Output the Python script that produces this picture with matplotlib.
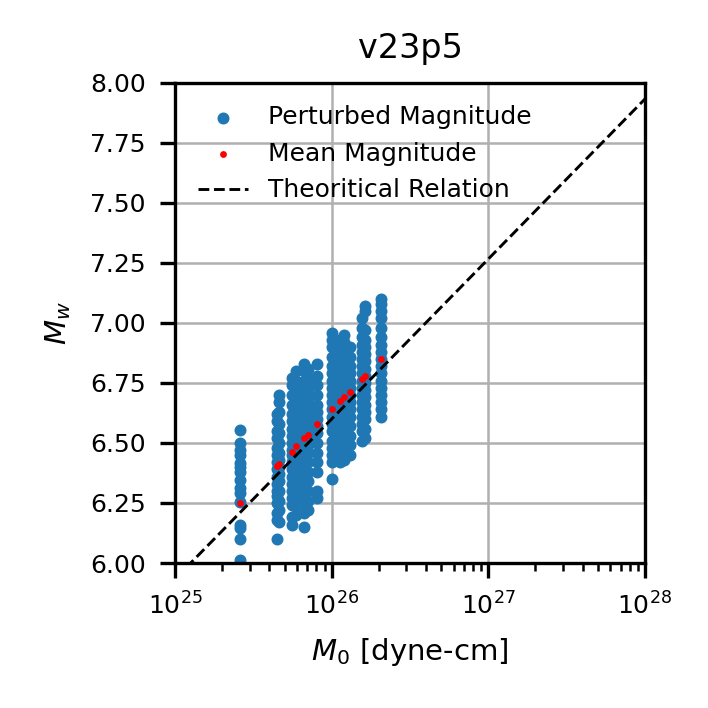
import numpy as np
import matplotlib
matplotlib.use("Agg")
import matplotlib.pyplot as plt

plt.rcParams['font.size'] = 6

# Event seismic moments (dyne-cm) and mean magnitudes
m0_events = [2.60e25, 4.46e25, 4.64e25, 5.56e25, 5.92e25, 6.68e25, 7.10e25,
             8.09e25, 1.005e26, 1.13e26, 1.205e26, 1.30e26, 1.556e26,
             1.633e26, 2.065e26]
mean_mw = [6.249, 6.404, 6.4125, 6.464, 6.4875, 6.52, 6.535, 6.579, 6.64,
           6.675, 6.69, 6.7125, 6.765, 6.779, 6.849]

# Perturbed magnitudes per event
pert_A = [6.554, 6.50, 6.47, 6.45, 6.415, 6.40, 6.38, 6.346, 6.311, 6.29,
          6.255, 6.158, 6.144, 6.10, 6.0125]
pert_B = [6.10, 6.18, 6.21, 6.25, 6.28, 6.30, 6.33, 6.36, 6.39, 6.42, 6.45,
          6.48, 6.52, 6.55, 6.59, 6.62]
pert_C = [6.17, 6.22, 6.26, 6.30, 6.34, 6.37, 6.40, 6.43, 6.46, 6.50, 6.54,
          6.58, 6.63, 6.67, 6.70]
pert_D = [6.16, 6.19, 6.24, 6.27, 6.30, 6.33, 6.36, 6.39, 6.42, 6.45, 6.47,
          6.50, 6.53, 6.56, 6.59, 6.62, 6.66, 6.70, 6.74, 6.77]
pert_E = [6.20, 6.24, 6.28, 6.31, 6.35, 6.38, 6.41, 6.44, 6.47, 6.49, 6.52,
          6.55, 6.58, 6.61, 6.65, 6.68, 6.72, 6.76, 6.80]
pert_F = [6.15, 6.21, 6.25, 6.29, 6.33, 6.37, 6.41, 6.45, 6.48, 6.51, 6.54,
          6.57, 6.60, 6.63, 6.66, 6.69, 6.72, 6.76, 6.80, 6.83]
pert_G = [6.22, 6.26, 6.30, 6.34, 6.38, 6.42, 6.46, 6.49, 6.52, 6.55, 6.58,
          6.61, 6.64, 6.67, 6.70, 6.73, 6.77, 6.81]
pert_H = [6.27, 6.30, 6.38, 6.42, 6.46, 6.50, 6.54, 6.57, 6.60, 6.63, 6.66,
          6.70, 6.74, 6.78, 6.83]
pert_I = [6.35, 6.42, 6.45, 6.48, 6.51, 6.55, 6.58, 6.61, 6.64, 6.67, 6.70,
          6.73, 6.76, 6.79, 6.82, 6.86, 6.90, 6.93, 6.96]
pert_J = [6.42, 6.45, 6.49, 6.53, 6.57, 6.60, 6.63, 6.66, 6.69, 6.72, 6.75,
          6.78, 6.81, 6.85, 6.89, 6.93]
pert_K = [6.43, 6.47, 6.51, 6.55, 6.59, 6.62, 6.65, 6.68, 6.71, 6.74, 6.77,
          6.80, 6.84, 6.88, 6.92, 6.95]
pert_L = [6.45, 6.49, 6.53, 6.57, 6.61, 6.64, 6.67, 6.70, 6.73, 6.76, 6.79,
          6.82, 6.86, 6.90]
pert_M = [6.51, 6.55, 6.58, 6.61, 6.64, 6.67, 6.70, 6.73, 6.76, 6.79, 6.82,
          6.85, 6.88, 6.91, 6.94, 6.98, 7.02]
pert_N = [6.52, 6.56, 6.60, 6.63, 6.66, 6.69, 6.72, 6.75, 6.78, 6.81, 6.84,
          6.87, 6.90, 6.93, 6.97, 7.05, 7.07]
pert_O = [6.61, 6.64, 6.67, 6.70, 6.73, 6.76, 6.79, 6.82, 6.85, 6.88, 6.91,
          6.94, 6.98, 7.02, 7.05, 7.08, 7.10]

perturbed = [pert_A, pert_B, pert_C, pert_D, pert_E, pert_F, pert_G, pert_H,
             pert_I, pert_J, pert_K, pert_L, pert_M, pert_N, pert_O]

xs, ys = [], []
for m0, vals in zip(m0_events, perturbed):
    xs.extend([m0] * len(vals))
    ys.extend(vals)

fig = plt.figure(figsize=(708 / 300, 708 / 300), dpi=300)
ax = fig.add_axes([0.2472, 0.2048, 0.6638, 0.678])

ax.scatter(xs, ys, s=3.5, color='#1f77b4', label='Perturbed Magnitude', zorder=2)
ax.scatter(m0_events, mean_mw, s=0.4, color='red', label='Mean Magnitude', zorder=3)

m0_line = np.logspace(25, 28, 100)
mw_line = (np.log10(m0_line) - 16.1) / 1.5
ax.plot(m0_line, mw_line, 'k--', lw=0.7, label='Theoritical Relation', zorder=4)

ax.set_xscale('log')
ax.set_xlim(1e25, 1e28)
ax.set_ylim(6.0, 8.0)
ax.set_yticks(np.arange(6.0, 8.01, 0.25))
ax.yaxis.set_major_formatter(matplotlib.ticker.FormatStrFormatter('%.2f'))
ax.grid(True, which='major', color='#b0b0b0', lw=0.6, zorder=0)
ax.set_axisbelow(True)

ax.set_xlabel('$M_0$ [dyne-cm]', fontsize=7)
ax.set_ylabel('$M_w$', fontsize=7)
ax.set_title('v23p5', fontsize=8)
ax.legend(loc='upper left', frameon=False, fontsize=6)

fig.savefig('out.png', dpi=300)
